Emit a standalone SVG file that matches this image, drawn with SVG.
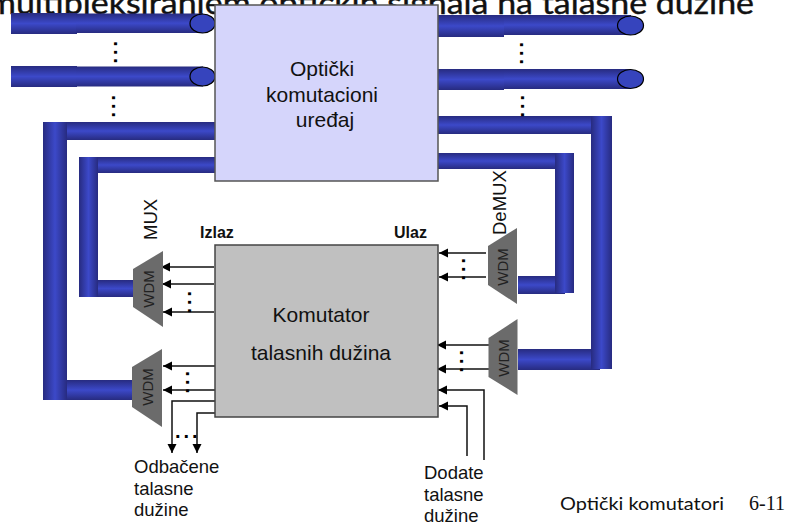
<svg xmlns="http://www.w3.org/2000/svg" width="791" height="524" viewBox="0 0 791 524">
<style>
text{font-family:"Liberation Sans",Arial,sans-serif;fill:#111}
.t{font-size:18.5px}
.m{font-size:21px;text-anchor:middle}
.b{font-size:16px;font-weight:bold}
.w{font-size:15px;text-anchor:middle;fill:#222}
.d{font-size:20px;font-weight:bold;letter-spacing:2.9px;fill:#000}
.c{font-family:Lato,"Open Sans",sans-serif}
.h{fill:url(#gh)}
.v{fill:url(#gv)}
.e{fill:#3644bd;stroke:#000;stroke-width:1.2}
.a{fill:none;stroke:#111;stroke-width:1.5}
.ar{marker-end:url(#arr)}
.tr{fill:#6b6b6b}
</style>
<defs>
<linearGradient id="gh" x1="0" y1="0" x2="0" y2="1"><stop offset="0" stop-color="#272b80"/><stop offset=".5" stop-color="#3c49c9"/><stop offset="1" stop-color="#272b80"/></linearGradient>
<linearGradient id="gv" x1="0" y1="0" x2="1" y2="0"><stop offset="0" stop-color="#272b80"/><stop offset=".5" stop-color="#3c49c9"/><stop offset="1" stop-color="#272b80"/></linearGradient>
<marker id="arr" markerUnits="userSpaceOnUse" markerWidth="10" markerHeight="10" refX="9" refY="4.5" orient="auto"><path d="M0 0L9 4.5L0 9Z" fill="#000"/></marker>
</defs>
<text class="c" x="-12" y="14" font-size="30" stroke="#111" stroke-width=".4" textLength="766" lengthAdjust="spacingAndGlyphs">multipleksiranjem optičkih signala na talasne dužine</text>
<g id="connectors">
<rect class="h" x="11" y="13" width="66" height="21"/><rect class="h" x="76" y="13.5" width="127" height="19.5"/>
<ellipse class="e" cx="202.5" cy="23.5" rx="12.5" ry="9.5"/>
<rect class="h" x="11" y="66" width="66" height="21"/><rect class="h" x="76" y="66.5" width="127" height="20"/>
<ellipse class="e" cx="202.5" cy="76.5" rx="12.5" ry="9.5"/>
<rect class="h" x="438" y="15" width="66" height="22"/><rect class="h" x="504" y="15" width="127" height="20"/>
<ellipse class="e" cx="630.5" cy="25.5" rx="13" ry="9.5"/>
<rect class="h" x="438" y="69" width="66" height="21"/><rect class="h" x="504" y="69" width="127" height="20"/>
<ellipse class="e" cx="630.5" cy="79" rx="13" ry="9.5"/>
<rect class="h" x="60" y="122" width="156" height="18"/><rect class="v" x="43" y="122" width="24" height="278"/>
<rect class="h" x="67" y="380" width="67" height="20"/>
<rect class="h" x="92" y="157" width="124" height="16"/><rect class="v" x="79" y="157" width="19" height="140"/>
<rect class="h" x="98" y="280" width="38" height="17"/>
<rect class="h" x="437" y="116" width="156" height="18"/><rect class="h" x="518" y="349" width="82" height="21"/>
<rect class="v" x="591" y="116" width="21" height="253"/>
<rect class="h" x="437" y="153" width="120" height="16"/><rect class="h" x="518" y="276" width="47" height="18"/>
<rect class="v" x="555" y="153" width="19" height="140"/>
<path class="a ar" d="M214 267H161"/><path class="a ar" d="M214 284H162"/><path class="a ar" d="M214 312H163"/>
<path class="a ar" d="M215 366H163"/><path class="a ar" d="M215 390H163"/>
<path class="a ar" d="M215 401H172V453"/><path class="a ar" d="M215 413H197V453"/>
<path class="a ar" d="M486 253H439"/><path class="a ar" d="M486 277H439"/>
<path class="a ar" d="M489 345H437"/><path class="a ar" d="M489 369H437"/>
<path class="a ar" d="M484 460V390H438"/><path class="a ar" d="M467 456V406H439"/>
</g>
<g id="optical-switch"><rect x="215" y="5" width="223" height="176" fill="#d5d5fb" stroke="#555" stroke-width="1.5"/>
<text class="m" x="322" y="76">Optički</text><text class="m" x="322" y="102">komutacioni</text><text class="m" x="325" y="127">uređaj</text></g>
<g id="wavelength-switch"><rect x="215" y="245" width="223" height="172" fill="#c0c0c0" stroke="#444" stroke-width="1.5"/>
<text class="m" x="321" y="322">Komutator</text><text class="m" x="321" y="360">talasnih dužina</text></g>
<g id="mux-1"><path class="tr" d="M133 269L163 251V327L133 307Z"/><text class="w" transform="translate(154 289) rotate(-90)">WDM</text></g>
<g id="mux-2"><path class="tr" d="M132 367L162 349V427L132 407Z"/><text class="w" transform="translate(153 387) rotate(-90)">WDM</text></g>
<g id="demux-1"><path class="tr" d="M488 246L517 228V304L488 285Z"/><text class="w" transform="translate(508 267) rotate(-90)">WDM</text></g>
<g id="demux-2"><path class="tr" d="M488.5 338L517.5 319V395L488.5 377Z"/><text class="w" transform="translate(509 358) rotate(-90)">WDM</text></g>
<g id="labels">
<text class="t" transform="translate(157 240) rotate(-90)">MUX</text>
<text class="t" transform="translate(506 235) rotate(-90)">DeMUX</text>
<text class="b" x="200" y="238">Izlaz</text><text class="b" x="394" y="238">Ulaz</text>
<text class="t" x="134" y="473">Odbačene</text><text class="t" x="134" y="495">talasne</text><text class="t" x="134" y="516">dužine</text>
<text class="t" x="424" y="479">Dodate</text><text class="t" x="424" y="501">talasne</text><text class="t" x="424" y="522">dužine</text>
<text class="c" x="560" y="510" font-size="18" textLength="164" lengthAdjust="spacingAndGlyphs">Optički komutatori</text>
<text x="749" y="510" font-size="20" style="font-family:'Liberation Serif',serif">6-11</text>
<text class="d" transform="translate(114 41) rotate(90)">...</text>
<text class="d" transform="translate(112 95) rotate(90)">...</text>
<text class="d" transform="translate(520 42) rotate(90)">...</text>
<text class="d" transform="translate(521 95) rotate(90)">...</text>
<text class="d" transform="translate(188 291) rotate(90)">...</text>
<text class="d" transform="translate(186 371) rotate(90)">...</text>
<text class="d" transform="translate(462 258) rotate(90)">...</text>
<text class="d" transform="translate(460 350) rotate(90)">...</text>
<text class="d" x="175" y="438">...</text>
</g>
</svg>
